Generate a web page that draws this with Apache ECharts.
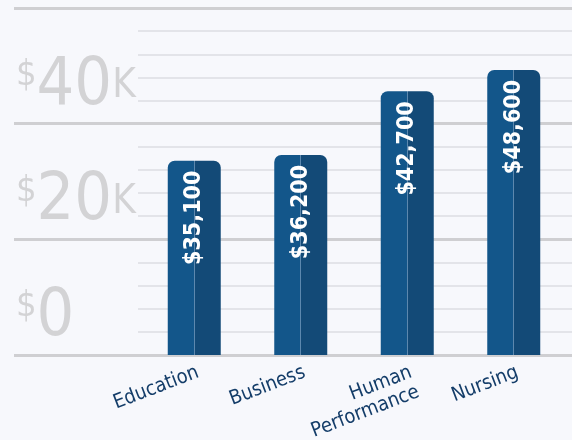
<!DOCTYPE html>
<html>
<head>
<meta charset="utf-8">
<script src="https://cdn.jsdelivr.net/npm/echarts@6/dist/echarts.min.js"></script>
<style>
  html, body { margin: 0; padding: 0; background: #f7f8fc; }
  #main { width: 572px; height: 440px; }
</style>
</head>
<body>
<div id="main"></div>
<script>
// categories and values
const majors = ['Education', 'Business', 'Human\nPerformance', 'Nursing'];
const barValues = [33600, 34600, 45600, 49300]; // bar heights on the axis
const salaryLabels = ['$35,100', '$36,200', '$42,700', '$48,600'];
const yTickLabels = { 0: '0', 20000: '20', 40000: '40' };

const chart = echarts.init(document.getElementById('main'));
const font = '"DejaVu Sans Condensed", "Liberation Sans Narrow", sans-serif';

const barColor = {
  type: 'linear', x: 0, y: 0, x2: 1, y2: 0,
  colorStops: [
    { offset: 0, color: '#13568a' },
    { offset: 0.49, color: '#13568a' },
    { offset: 0.49, color: '#5d88ae' },
    { offset: 0.51, color: '#5d88ae' },
    { offset: 0.51, color: '#134a77' },
    { offset: 1, color: '#134a77' }
  ]
};

chart.setOption({
  backgroundColor: '#f7f8fc',
  animation: false,
  grid: [
    { left: 141, right: 5, top: 8, bottom: 85, outerBoundsMode: 'none' },
    { left: 138, right: 0, top: 8, bottom: 85, outerBoundsMode: 'none' },
    { left: 14, right: 0, top: 8, bottom: 85, outerBoundsMode: 'none' }
  ],
  xAxis: [
    {
      type: 'category',
      gridIndex: 0,
      data: majors,
      axisLine: { show: false },
      axisTick: { show: false },
      axisLabel: {
        rotate: 21,
        margin: 7,
        verticalAlign: 'top',
        color: '#143d69',
        fontFamily: font,
        fontWeight: 'condensed',
        fontSize: 20,
        lineHeight: 21
      }
    },
    { type: 'value', gridIndex: 1, show: false },
    { type: 'value', gridIndex: 2, show: false }
  ],
  yAxis: [
    { type: 'value', gridIndex: 0, min: 0, max: 60000, show: false },
    {
      type: 'value', gridIndex: 1, min: 0, max: 60000, interval: 4000,
      axisLine: { show: false }, axisTick: { show: false }, axisLabel: { show: false },
      splitLine: { lineStyle: { color: '#e3e4e9', width: 2 } }
    },
    {
      type: 'value', gridIndex: 2, min: 0, max: 60000, interval: 20000,
      axisLine: { show: false }, axisTick: { show: false },
      splitLine: { lineStyle: { color: '#cfcfd2', width: 3 } },
      axisLabel: {
        inside: true,
        margin: 2,
        verticalAlign: 'bottom',
        padding: [0, 0, 9, 0],
        formatter: function (v) {
          if (!(v in yTickLabels)) return '';
          const k = v > 0 ? '{k|K}' : '';
          return '{d|$}{n|' + yTickLabels[v] + '}' + k;
        },
        rich: {
          d: { fontFamily: font, fontWeight: 'condensed', fontSize: 36, color: '#d3d3d5', lineHeight: 56, padding: [0, 0, 22, 0] },
          n: { fontFamily: font, fontWeight: 'condensed', fontSize: 66, color: '#d3d3d5', lineHeight: 56 },
          k: { fontFamily: font, fontWeight: 'condensed', fontSize: 40, color: '#d3d3d5', lineHeight: 56 }
        }
      }
    }
  ],
  series: [
    {
      type: 'bar',
      xAxisIndex: 0,
      yAxisIndex: 0,
      data: barValues,
      barWidth: 53,
      itemStyle: { color: barColor, borderRadius: [7, 7, 0, 0] },
      label: {
        show: true,
        position: 'insideTop',
        rotate: 90,
        align: 'right',
        verticalAlign: 'middle',
        distance: 10,
        color: '#ffffff',
        fontFamily: font,
        fontWeight: 'bold condensed',
        fontSize: 23,
        formatter: function (p) { return salaryLabels[p.dataIndex]; }
      }
    }
  ]
});
</script>
</body>
</html>
